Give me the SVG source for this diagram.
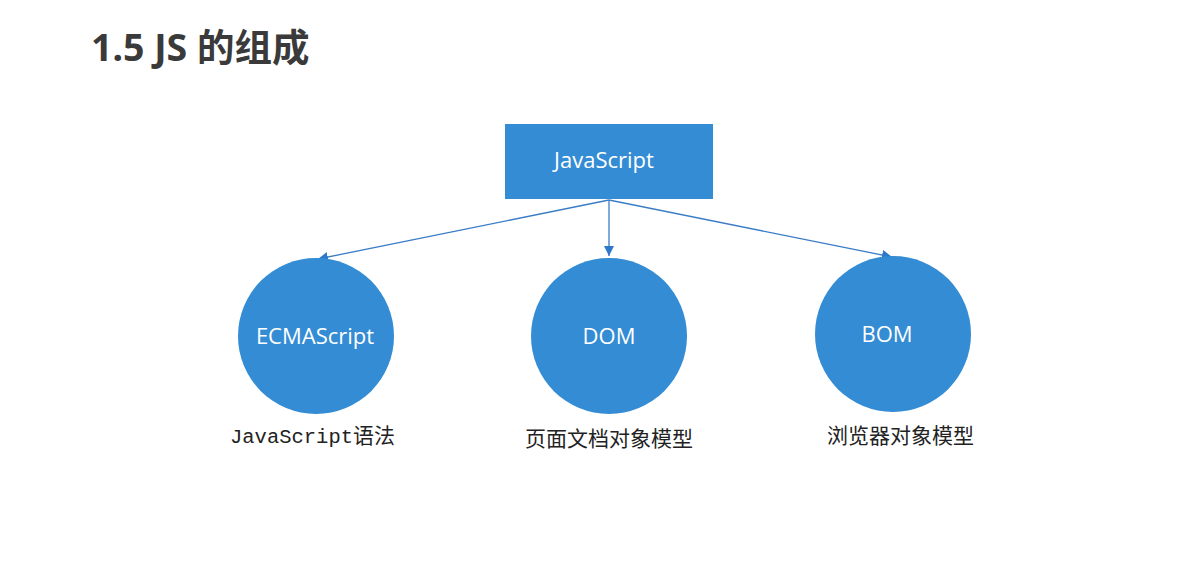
<svg xmlns="http://www.w3.org/2000/svg" width="1178" height="581" viewBox="0 0 1178 581">
<defs>
<style>
.node{fill:#338cd4;}
.nt{fill:#ffffff;font-family:"Open Sans","Noto Sans",sans-serif;font-size:22px;text-anchor:middle;}
.lbl{fill:#222;font-family:"Noto Sans CJK SC",sans-serif;font-size:21px;}
.mono{fill:#222;font-family:"Liberation Mono","Noto Sans CJK SC",monospace;font-size:20.5px;}
.edge{stroke:#3a7cc6;stroke-width:1.3;fill:none;marker-end:url(#ah);}
</style>
<marker id="ah" viewBox="0 0 10 10" refX="10" refY="5" markerWidth="10" markerHeight="10" markerUnits="userSpaceOnUse" orient="auto">
<path d="M0,0 L10,5 L0,10 z" fill="#2d78c8"/>
</marker>
</defs>
<rect width="1178" height="581" fill="#ffffff"/>
<text x="91" y="61" font-family="'Noto Sans','Noto Sans CJK SC',sans-serif" font-weight="bold" font-size="37.5" fill="#3a3a3a">1.5 JS 的组成</text>
<g id="connectors">
<line class="edge" x1="609" y1="200" x2="318" y2="259"/>
<line class="edge" x1="609" y1="200" x2="609" y2="256"/>
<line class="edge" x1="609" y1="200" x2="892" y2="257"/>
</g>
<g id="javascript">
<rect class="node" x="505" y="124" width="208" height="75"/>
<text class="nt" x="604" y="168">JavaScript</text>
</g>
<g id="ecmascript">
<circle class="node" cx="316" cy="336" r="78"/>
<text class="nt" x="315" y="344">ECMAScript</text>
<text class="mono" x="230" y="443">JavaScript<tspan class="lbl">语法</tspan></text>
</g>
<g id="dom">
<circle class="node" cx="609" cy="336" r="78"/>
<text class="nt" x="609" y="344">DOM</text>
<text class="lbl" x="525" y="446">页面文档对象模型</text>
</g>
<g id="bom">
<circle class="node" cx="893" cy="334" r="78"/>
<text class="nt" x="887" y="342">BOM</text>
<text class="lbl" x="827" y="443">浏览器对象模型</text>
</g>
</svg>
